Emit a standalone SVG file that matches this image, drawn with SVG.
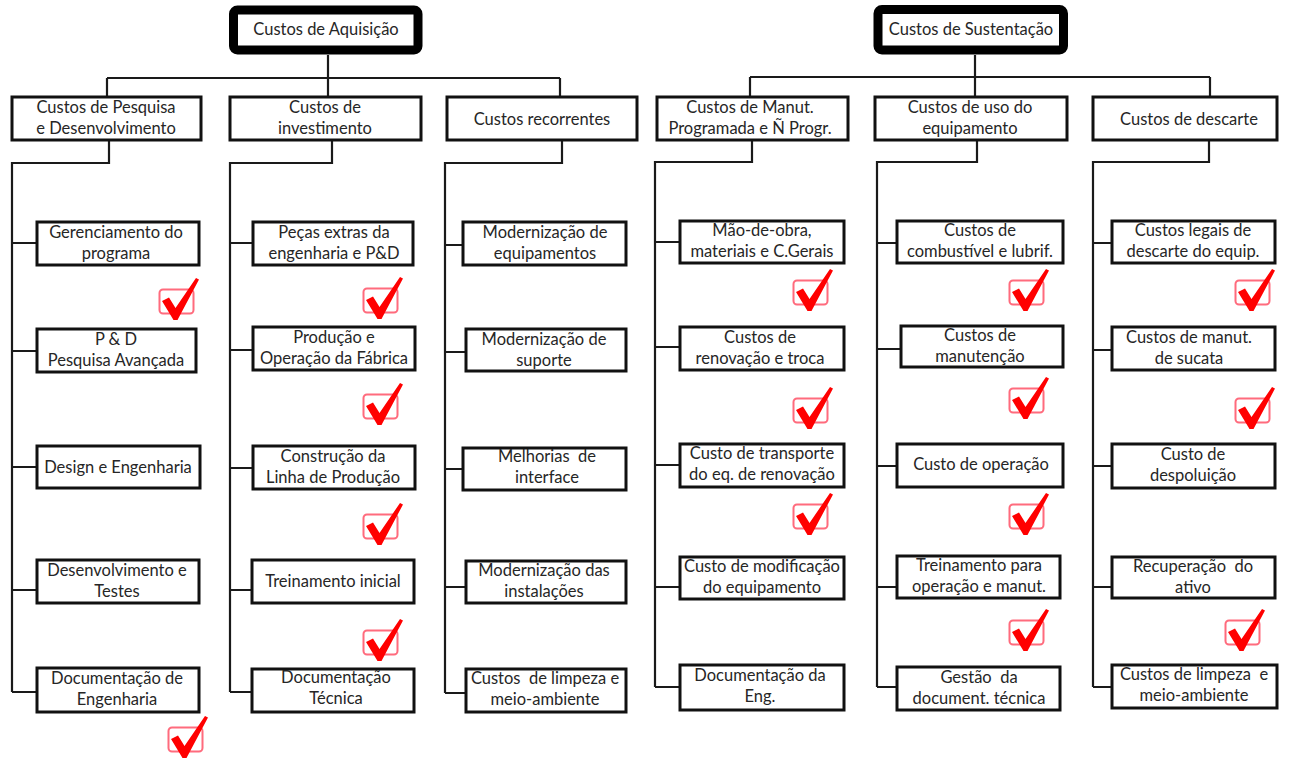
<svg xmlns="http://www.w3.org/2000/svg" xmlns:xlink="http://www.w3.org/1999/xlink" width="1290" height="759" viewBox="0 0 1290 759">
  <style>
    .bx { fill: #ffffff; stroke: #111111; stroke-width: 3; }
    .root { fill: #ffffff; stroke: #000000; stroke-width: 9; }
    .ln { fill: none; stroke: #1a1a1a; stroke-width: 2.2; }
    text { font-family: Lato, "Liberation Sans", sans-serif; font-size: 16.5px; fill: #262626; text-anchor: middle; }
  </style>
  <defs>
    <!-- red tick inside a pink rounded frame -->
    <g id="tick">
      <rect x="0.5" y="11.5" width="34" height="24" rx="3.5" fill="none" stroke="#ff6b7d" stroke-width="2"/>
      <polygon points="3,23 10,19.5 16.5,30 37,0 40,1.5 18.5,42 14.5,42" fill="#ff0000"/>
    </g>
  </defs>

  <rect width="1290" height="759" fill="#ffffff"/>

  <!-- connectors -->
  <g id="connectors" class="ln">
    <path d="M328,55 V97 M107,78 H560 M107,78 V97 M560,78 V97"/>
    <path d="M975,55 V97 M750,77 H1210 M750,77 V97 M1210,77 V97"/>
    <path d="M109,140 V163 H12 V692 M12,243 H37 M12,351 H37 M12,467 H37 M12,590 H37 M12,692 H37"/>
    <path d="M332,140 V163 H230 V692 M230,243 H253 M230,350 H253 M230,468 H253 M230,590 H252 M230,692 H252"/>
    <path d="M562,140 V163 H445 V693 M445,245 H463 M445,352 H466 M445,469 H463 M445,587 H466 M445,693 H466"/>
    <path d="M752,140 V162 H655 V687 M655,242 H680 M655,347 H680 M655,465 H680 M655,587 H680 M655,687 H680"/>
    <path d="M977,140 V162 H877 V687 M877,243 H897 M877,349 H901 M877,466 H897 M877,587 H897 M877,687 H897"/>
    <path d="M1209,140 V162 H1093 V687 M1093,243 H1112 M1093,350 H1112 M1093,466 H1112 M1093,587 H1112 M1093,687 H1112"/>
  </g>

  <!-- roots -->
  <g id="aquisicao">
    <rect class="root" x="233.5" y="10" width="184.5" height="40" rx="4"/>
    <text x="326" y="35">Custos de Aquisição</text>
  </g>
  <g id="sustentacao">
    <rect class="root" x="878" y="9.5" width="185.5" height="40.5" rx="4"/>
    <text x="971" y="35">Custos de Sustentação</text>
  </g>

  <!-- second level -->
  <g id="pesquisa-desenv">
    <rect class="bx" x="12" y="97" width="189" height="43"/>
    <text x="106" y="113"><tspan x="106">Custos de Pesquisa</tspan><tspan x="106" dy="21">e Desenvolvimento</tspan></text>
  </g>
  <g id="investimento">
    <rect class="bx" x="230" y="97" width="191" height="43"/>
    <text x="325" y="113"><tspan x="325">Custos de</tspan><tspan x="325" dy="21">investimento</tspan></text>
  </g>
  <g id="recorrentes">
    <rect class="bx" x="447" y="97" width="190" height="43"/>
    <text x="542" y="124.5">Custos recorrentes</text>
  </g>
  <g id="manut-programada">
    <rect class="bx" x="657" y="97" width="191" height="43"/>
    <text x="750" y="113"><tspan x="750">Custos de Manut.</tspan><tspan x="750" dy="21">Programada e Ñ Progr.</tspan></text>
  </g>
  <g id="uso-equipamento">
    <rect class="bx" x="875" y="97" width="192" height="43"/>
    <text x="970" y="113"><tspan x="970">Custos de uso do</tspan><tspan x="970" dy="21">equipamento</tspan></text>
  </g>
  <g id="descarte">
    <rect class="bx" x="1093" y="97" width="184" height="43"/>
    <text x="1189" y="124.5">Custos de descarte</text>
  </g>

  <!-- column 1 -->
  <g id="gerenciamento">
    <rect class="bx" x="37" y="222" width="162" height="43"/>
    <text x="116" y="237.5"><tspan x="116">Gerenciamento do</tspan><tspan x="116" dy="21">programa</tspan></text>
  </g>
  <g id="pd-avancada">
    <rect class="bx" x="37" y="329" width="159" height="43"/>
    <text x="116" y="344.5"><tspan x="116">P &amp; D</tspan><tspan x="116" dy="21">Pesquisa Avançada</tspan></text>
  </g>
  <g id="design">
    <rect class="bx" x="37" y="446" width="163" height="42"/>
    <text x="118" y="472.5">Design e Engenharia</text>
  </g>
  <g id="desenv-testes">
    <rect class="bx" x="37" y="560" width="162" height="43"/>
    <text x="117" y="575.5"><tspan x="117">Desenvolvimento e</tspan><tspan x="117" dy="21">Testes</tspan></text>
  </g>
  <g id="doc-engenharia">
    <rect class="bx" x="37" y="668" width="162" height="44"/>
    <text x="117" y="683.5"><tspan x="117">Documentação de</tspan><tspan x="117" dy="21">Engenharia</tspan></text>
  </g>

  <!-- column 2 -->
  <g id="pecas-extras">
    <rect class="bx" x="253" y="222" width="160" height="43"/>
    <text x="334" y="237.5"><tspan x="334">Peças extras da</tspan><tspan x="334" dy="21">engenharia e P&amp;D</tspan></text>
  </g>
  <g id="producao-fabrica">
    <rect class="bx" x="253" y="327" width="162" height="43"/>
    <text x="334" y="342.5"><tspan x="334">Produção e</tspan><tspan x="334" dy="21">Operação da Fábrica</tspan></text>
  </g>
  <g id="linha-producao">
    <rect class="bx" x="253" y="446" width="162" height="43"/>
    <text x="333" y="461.5"><tspan x="333">Construção da</tspan><tspan x="333" dy="21">Linha de Produção</tspan></text>
  </g>
  <g id="treinamento-inicial">
    <rect class="bx" x="252" y="560" width="162" height="43"/>
    <text x="333" y="586.5">Treinamento inicial</text>
  </g>
  <g id="doc-tecnica">
    <rect class="bx" x="252" y="669" width="162" height="43"/>
    <text x="336" y="682.5"><tspan x="336">Documentação</tspan><tspan x="336" dy="21">Técnica</tspan></text>
  </g>

  <!-- column 3 -->
  <g id="mod-equipamentos">
    <rect class="bx" x="463" y="222" width="163" height="43"/>
    <text x="545" y="237.5"><tspan x="545">Modernização de</tspan><tspan x="545" dy="21">equipamentos</tspan></text>
  </g>
  <g id="mod-suporte">
    <rect class="bx" x="466" y="329" width="160" height="42"/>
    <text x="544" y="344.5"><tspan x="544">Modernização de</tspan><tspan x="544" dy="21">suporte</tspan></text>
  </g>
  <g id="melhorias-interface">
    <rect class="bx" x="463" y="448" width="163" height="42"/>
    <text x="547" y="462" xml:space="preserve"><tspan x="547">Melhorias  de</tspan><tspan x="547" dy="21">interface</tspan></text>
  </g>
  <g id="mod-instalacoes">
    <rect class="bx" x="466" y="561" width="160" height="42"/>
    <text x="544" y="576"><tspan x="544">Modernização das</tspan><tspan x="544" dy="21">instalações</tspan></text>
  </g>
  <g id="limpeza-aquisicao">
    <rect class="bx" x="466" y="669" width="160" height="43"/>
    <text x="545" y="684" xml:space="preserve"><tspan x="545">Custos  de limpeza e</tspan><tspan x="545" dy="21">meio-ambiente</tspan></text>
  </g>

  <!-- column 4 -->
  <g id="mao-de-obra">
    <rect class="bx" x="680" y="221" width="164" height="42"/>
    <text x="762" y="236"><tspan x="762">Mão-de-obra,</tspan><tspan x="762" dy="21">materiais e C.Gerais</tspan></text>
  </g>
  <g id="renovacao-troca">
    <rect class="bx" x="680" y="327" width="164" height="43"/>
    <text x="760" y="342.5"><tspan x="760">Custos de</tspan><tspan x="760" dy="21">renovação e troca</tspan></text>
  </g>
  <g id="transporte">
    <rect class="bx" x="680" y="444" width="164" height="43"/>
    <text x="762" y="459"><tspan x="762">Custo de transporte</tspan><tspan x="762" dy="21">do eq. de renovação</tspan></text>
  </g>
  <g id="modificacao">
    <rect class="bx" x="680" y="557" width="164" height="42"/>
    <text x="762" y="572"><tspan x="762">Custo de modificação</tspan><tspan x="762" dy="21">do equipamento</tspan></text>
  </g>
  <g id="doc-eng">
    <rect class="bx" x="680" y="665" width="164" height="45"/>
    <text x="760" y="681"><tspan x="760">Documentação da</tspan><tspan x="760" dy="21">Eng.</tspan></text>
  </g>

  <!-- column 5 -->
  <g id="combustivel">
    <rect class="bx" x="897" y="221" width="166" height="42"/>
    <text x="980" y="236"><tspan x="980">Custos de</tspan><tspan x="980" dy="21">combustível e lubrif.</tspan></text>
  </g>
  <g id="manutencao">
    <rect class="bx" x="901" y="326" width="162" height="41"/>
    <text x="980" y="341"><tspan x="980">Custos de</tspan><tspan x="980" dy="21">manutenção</tspan></text>
  </g>
  <g id="operacao">
    <rect class="bx" x="897" y="444" width="166" height="43"/>
    <text x="981" y="470">Custo de operação</text>
  </g>
  <g id="treinamento-operacao">
    <rect class="bx" x="897" y="556" width="163" height="42"/>
    <text x="979" y="571"><tspan x="979">Treinamento para</tspan><tspan x="979" dy="21">operação e manut.</tspan></text>
  </g>
  <g id="gestao-doc">
    <rect class="bx" x="897" y="667" width="163" height="43"/>
    <text x="979" y="683" xml:space="preserve"><tspan x="979">Gestão  da</tspan><tspan x="979" dy="21">document. técnica</tspan></text>
  </g>

  <!-- column 6 -->
  <g id="legais-descarte">
    <rect class="bx" x="1112" y="221" width="163" height="42"/>
    <text x="1193" y="236"><tspan x="1193">Custos legais de</tspan><tspan x="1193" dy="21">descarte do equip.</tspan></text>
  </g>
  <g id="manut-sucata">
    <rect class="bx" x="1112" y="327" width="163" height="43"/>
    <text x="1189" y="342.5"><tspan x="1189">Custos de manut.</tspan><tspan x="1189" dy="21">de sucata</tspan></text>
  </g>
  <g id="despoluicao">
    <rect class="bx" x="1112" y="444" width="163" height="44"/>
    <text x="1193" y="459.5"><tspan x="1193">Custo de</tspan><tspan x="1193" dy="21">despoluição</tspan></text>
  </g>
  <g id="recuperacao">
    <rect class="bx" x="1112" y="557" width="163" height="41"/>
    <text x="1193" y="572" xml:space="preserve"><tspan x="1193">Recuperação  do</tspan><tspan x="1193" dy="21">ativo</tspan></text>
  </g>
  <g id="limpeza-sustentacao">
    <rect class="bx" x="1112" y="665" width="165" height="43"/>
    <text x="1194" y="680" xml:space="preserve"><tspan x="1194">Custos de limpeza  e</tspan><tspan x="1194" dy="21">meio-ambiente</tspan></text>
  </g>

  <!-- ticks -->
  <g id="ticks">
    <use xlink:href="#tick" x="159" y="278"/>
    <use xlink:href="#tick" x="168" y="716"/>
    <use xlink:href="#tick" x="363" y="277"/>
    <use xlink:href="#tick" x="363" y="383"/>
    <use xlink:href="#tick" x="363" y="503"/>
    <use xlink:href="#tick" x="363" y="619"/>
    <use xlink:href="#tick" x="793" y="269"/>
    <use xlink:href="#tick" x="793" y="387"/>
    <use xlink:href="#tick" x="793" y="493"/>
    <use xlink:href="#tick" x="1009" y="269"/>
    <use xlink:href="#tick" x="1009" y="377"/>
    <use xlink:href="#tick" x="1009" y="493"/>
    <use xlink:href="#tick" x="1009" y="609"/>
    <use xlink:href="#tick" x="1235" y="269"/>
    <use xlink:href="#tick" x="1235" y="387"/>
    <use xlink:href="#tick" x="1225" y="609"/>
  </g>
</svg>
